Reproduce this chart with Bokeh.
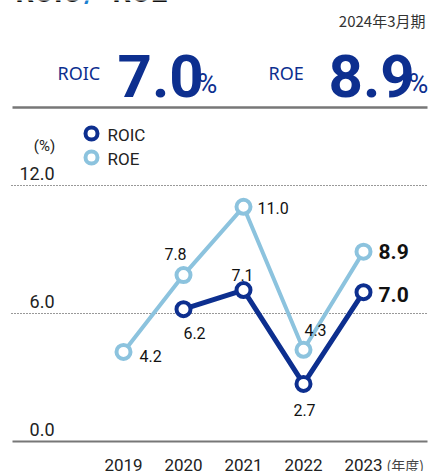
from bokeh.plotting import figure
from bokeh.models import Range1d
from bokeh.core.properties import value
from bokeh.embed import file_html
from bokeh.resources import INLINE

# ---- data ----
years = ["2019", "2020", "2021", "2022", "2023"]
roic = [None, 6.2, 7.1, 2.7, 7.0]
roe = [4.2, 7.8, 11.0, 4.3, 8.9]
y_ticks = [0.0, 6.0, 12.0]
y_tick_labels = ["0.0", "6.0", "12.0"]
latest_period = "2024年3月期"
latest_roic = "7.0"
latest_roe = "8.9"

ROIC_C = "#0d2f8f"
ROE_C = "#8cc3de"
TXT = "#222222"
NUM_FONT = value("Roboto")
JP_FONT = value("Noto Sans CJK JP")

W, H = 430, 471
X0_PX, DX_PX = 123.0, 60.0
Y0_PX, PX_PER_UNIT = 441.0, 128.0 / 6.0
BASE_K = 0.26  # correction: rendered alphabetic baseline sits this many em lower

def px(xp):
    return (xp - X0_PX) / DX_PX

def py(yp):
    return (Y0_PX - yp) / PX_PER_UNIT

p = figure(width=W, height=H, output_backend="svg", toolbar_location=None,
           x_range=Range1d(px(0), px(W)), y_range=Range1d(py(H), py(0)),
           min_border=0, min_border_left=0, min_border_right=0,
           min_border_top=0, min_border_bottom=0)
p.axis.visible = False
p.grid.visible = False
p.outline_line_color = None
p.background_fill_color = "white"
p.border_fill_color = "white"

def txt(x, y, s, fs, color=TXT, font=NUM_FONT, bold=False, align="left", xo=0, yo=0):
    """y is data y of desired text baseline; yo additional pixel offset (down positive)."""
    p.text(x=x, y=y, text=s, text_font=font, text_font_style="bold" if bold else "normal",
           text_font_size=f"{fs}px", text_color=color, text_align=align,
           text_baseline="alphabetic", x_offset=xo, y_offset=yo - BASE_K * fs)

# ---- title (cropped at top, as in the reference) ----
txt([px(15)], [py(-1)], ["ROIC"], 29, color="#111111", bold=True)
txt([px(84)], [py(-1)], ["/"], 29, color="#1a7fd0", bold=True)
txt([px(112)], [py(-1)], ["ROE"], 29, color="#111111", bold=True)

# ---- header ----
txt([px(425)], [py(24)], [latest_period], 15, color="#333333", font=JP_FONT, align="right")

def header(xl, label, num):
    txt([px(xl)], [py(77)], [label], 18, color=ROIC_C, font=value("Noto Sans"))
    txt([px(xl + 60)], [py(91)], [num], 60, color=ROIC_C, bold=True)
    txt([px(xl + 140)], [py(91)], ["%"], 27, color=ROIC_C)

header(57, "ROIC", latest_roic)
header(268, "ROE", latest_roe)

p.segment(x0=[px(12)], y0=[py(107)], x1=[px(427)], y1=[py(107)], line_color="#777777", line_width=2.5)

# ---- legend ----
txt([px(44)], [py(149)], ["(%)"], 15, align="center")
for yl, c, name in [(133, ROIC_C, "ROIC"), (157, ROE_C, "ROE")]:
    p.scatter(x=[px(91)], y=[py(yl)], size=12, fill_color="white", line_color=c, line_width=4)
    txt([px(107)], [py(yl + 6)], [name], 17)

# ---- grid & y labels ----
for t, lab in zip(y_ticks, y_tick_labels):
    if t == 0:
        p.segment(x0=[px(12)], y0=[t], x1=[px(427)], y1=[t], line_color="#777777", line_width=2)
    else:
        p.segment(x0=[px(11)], y0=[t], x1=[px(428)], y1=[t], line_color="#333333",
                  line_width=1, line_dash="1 2")
    txt([px(54)], [t], [lab], 18, align="right", yo=-7)

# ---- x labels ----
xs = list(range(len(years)))
txt(xs, [py(469)] * len(xs), years, 17, align="center")
txt([px(386)], [py(468)], ["(年度)"], 14, color="#444444", font=JP_FONT)

# ---- lines ----
roe_x = [i for i, v in enumerate(roe) if v is not None]
roe_y = [v for v in roe if v is not None]
roic_x = [i for i, v in enumerate(roic) if v is not None]
roic_y = [v for v in roic if v is not None]

p.line(roe_x, roe_y, line_color=ROE_C, line_width=4)
p.line(roic_x, roic_y, line_color=ROIC_C, line_width=5)
p.scatter(roe_x, roe_y, size=14, fill_color="white", line_color=ROE_C, line_width=4)
p.scatter(roic_x, roic_y, size=14, fill_color="white", line_color=ROIC_C, line_width=4)

# ---- value labels: (x_offset, y_offset, align) per point ----
roe_place = [(16, 8, "left"), (-8, -17, "center"), (14, 5, "left"), (12, -16, "center"), (15, 5, "left")]
roic_place = [None, (11, 28, "center"), (-1, -11, "center"), (1, 30, "center"), (15, 8, "left")]

def labels(xv, yv, place, last_idx):
    for i, v in zip(xv, yv):
        xo, yo, al = place[i]
        bold = (i == last_idx)
        txt([i], [v], [f"{v:.1f}"], 21 if bold else 16, color="#111111", bold=bold,
            align=al, xo=xo, yo=yo)

labels(roe_x, roe_y, roe_place, len(years) - 1)
labels(roic_x, roic_y, roic_place, len(years) - 1)

open("out.html", "w").write(file_html(p, INLINE))
